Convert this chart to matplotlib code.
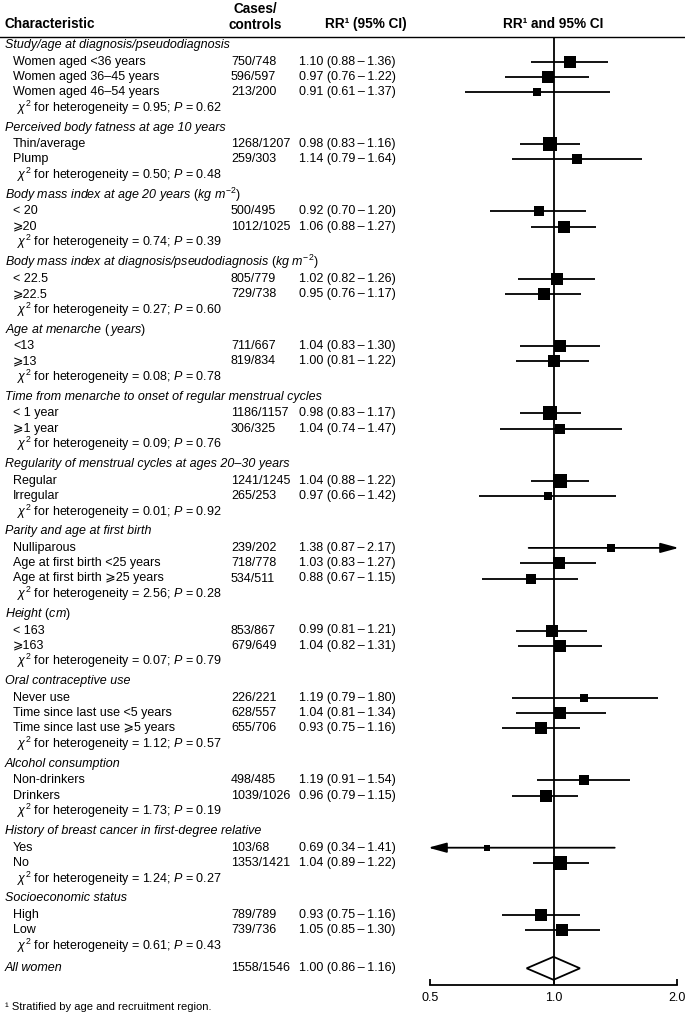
import matplotlib
matplotlib.use("Agg")
import matplotlib.pyplot as plt
import numpy as np

plt.rcParams["font.family"] = ["Liberation Sans", "DejaVu Sans"]
plt.rcParams["mathtext.fontset"] = "custom"
plt.rcParams["mathtext.rm"] = "Liberation Sans"
plt.rcParams["mathtext.it"] = "Liberation Sans:italic"
plt.rcParams["mathtext.bf"] = "Liberation Sans:bold"

# ---- data ----
group_titles = [
    "Study/age at diagnosis/pseudodiagnosis",
    "Perceived body fatness at age 10 years",
    r"Body mass index at age 20 years $(kg\ m^{-2})$",
    r"Body mass index at diagnosis/pseudodiagnosis $(kg\ m^{-2})$",
    r"Age at menarche $(\,years)$",
    "Time from menarche to onset of regular menstrual cycles",
    "Regularity of menstrual cycles at ages 20\u201330 years",
    "Parity and age at first birth",
    r"Height $(cm)$",
    "Oral contraceptive use",
    "Alcohol consumption",
    "History of breast cancer in first-degree relative",
    "Socioeconomic status",
]
item_labels = [
    ["Women aged <36 years", "Women aged 36\u201345 years", "Women aged 46\u201354 years"],
    ["Thin/average", "Plump"],
    ["< 20", "\u2a7e20"],
    ["< 22.5", "\u2a7e22.5"],
    ["<13", "\u2a7e13"],
    ["< 1 year", "\u2a7e1 year"],
    ["Regular", "Irregular"],
    ["Nulliparous", "Age at first birth <25 years", "Age at first birth \u2a7e25 years"],
    ["< 163", "\u2a7e163"],
    ["Never use", "Time since last use <5 years", "Time since last use \u2a7e5 years"],
    ["Non-drinkers", "Drinkers"],
    ["Yes", "No"],
    ["High", "Low"],
]
cases_controls = [
    ["750/748", "596/597", "213/200"],
    ["1268/1207", "259/303"],
    ["500/495", "1012/1025"],
    ["805/779", "729/738"],
    ["711/667", "819/834"],
    ["1186/1157", "306/325"],
    ["1241/1245", "265/253"],
    ["239/202", "718/778", "534/511"],
    ["853/867", "679/649"],
    ["226/221", "628/557", "655/706"],
    ["498/485", "1039/1026"],
    ["103/68", "1353/1421"],
    ["789/789", "739/736"],
]
rr = [
    [1.10, 0.97, 0.91], [0.98, 1.14], [0.92, 1.06], [1.02, 0.95], [1.04, 1.00],
    [0.98, 1.04], [1.04, 0.97], [1.38, 1.03, 0.88], [0.99, 1.04],
    [1.19, 1.04, 0.93], [1.19, 0.96], [0.69, 1.04], [0.93, 1.05],
]
ci_low = [
    [0.88, 0.76, 0.61], [0.83, 0.79], [0.70, 0.88], [0.82, 0.76], [0.83, 0.81],
    [0.83, 0.74], [0.88, 0.66], [0.87, 0.83, 0.67], [0.81, 0.82],
    [0.79, 0.81, 0.75], [0.91, 0.79], [0.34, 0.89], [0.75, 0.85],
]
ci_high = [
    [1.36, 1.22, 1.37], [1.16, 1.64], [1.20, 1.27], [1.26, 1.17], [1.30, 1.22],
    [1.17, 1.47], [1.22, 1.42], [2.17, 1.27, 1.15], [1.21, 1.31],
    [1.80, 1.34, 1.16], [1.54, 1.15], [1.41, 1.22], [1.16, 1.30],
]
chi2_het = [0.95, 0.50, 0.74, 0.27, 0.08, 0.09, 0.01, 2.56, 0.07, 1.12, 1.73, 1.24, 0.61]
p_het = [0.62, 0.48, 0.39, 0.60, 0.78, 0.76, 0.92, 0.28, 0.79, 0.57, 0.19, 0.27, 0.43]

overall_label = "All women"
overall_cases = "1558/1546"
overall_rr, overall_low, overall_high = 1.00, 0.86, 1.16

axis_ticks = [0.5, 1.0, 2.0]
axis_ticklabels = ["0.5", "1.0", "2.0"]

# ---- layout (pixel coordinates, y down) ----
W, H = 685, 1015
FS = 9
HFS = 9.8
X_HEAD, X_ITEM, X_CHI = 5, 13, 17
X_CASES, X_RR = 231, 299
PLOT_LEFT, PLOT_RIGHT, PLOT_TOP, PLOT_BOTTOM = 430, 677, 37, 985
RR_FMT = "{:.2f} ({:.2f}\u2009\u2013\u2009{:.2f})"

fig = plt.figure(figsize=(W / 100, H / 100), dpi=100)
ax = fig.add_axes([0, 0, 1, 1])
ax.set_xlim(0, W)
ax.set_ylim(H, 0)
ax.axis("off")

fax = fig.add_axes([PLOT_LEFT / W, (H - PLOT_BOTTOM) / H,
                    (PLOT_RIGHT - PLOT_LEFT) / W, (PLOT_BOTTOM - PLOT_TOP) / H])
fax.set_xscale("log")
xmin, xmax = axis_ticks[0], axis_ticks[-1]
fax.set_xlim(xmin, xmax)
fax.set_ylim(PLOT_BOTTOM, PLOT_TOP)
fax.patch.set_alpha(0)
for side in ["left", "right", "top"]:
    fax.spines[side].set_visible(False)
fax.spines["bottom"].set_linewidth(1.3)
fax.set_yticks([])
fax.xaxis.set_minor_locator(matplotlib.ticker.NullLocator())
fax.set_xticks(axis_ticks)
fax.set_xticklabels(axis_ticklabels, fontsize=FS)
fax.tick_params(axis="x", direction="in", length=4, width=1.3, pad=5)

# header
ax.text(X_HEAD, 24, "Characteristic", fontsize=HFS, fontweight="bold", va="center")
ax.text(255, 29, "Cases/\ncontrols", fontsize=HFS, fontweight="bold", ha="center",
        va="baseline", multialignment="center", linespacing=1.2)
ax.text(325, 24, "RR\u00b9 (95% CI)", fontsize=HFS, fontweight="bold", va="center")
ax.text(553, 24, "RR\u00b9 and 95% CI", fontsize=HFS, fontweight="bold", va="center",
        ha="center")
ax.axhline(PLOT_TOP, color="black", lw=1.0)

fax.axvline(1.0, color="black", lw=1.3, zorder=1)


def draw_row(y, label, cases, est, lo, hi):
    ax.text(X_ITEM, y, label, fontsize=FS, va="center")
    ax.text(X_CASES, y, cases, fontsize=FS, va="center")
    ax.text(X_RR, y, RR_FMT.format(est, lo, hi), fontsize=FS, va="center")
    # square size follows inverse-variance weight
    se = (np.log(hi) - np.log(lo)) / 3.92
    side_px = 3.97 / np.sqrt(se)
    lo_c, hi_c = max(lo, xmin), min(hi, xmax)
    arrow = dict(arrowstyle="-|>,head_length=1.1,head_width=0.3", color="black",
                 lw=1.3, shrinkA=0, shrinkB=0, mutation_scale=10)
    if lo < xmin:
        fax.annotate("", xy=(xmin * 0.99, y), xytext=(hi_c, y), arrowprops=arrow,
                     annotation_clip=False)
    elif hi > xmax:
        fax.annotate("", xy=(xmax * 1.01, y), xytext=(lo_c, y), arrowprops=arrow,
                     annotation_clip=False)
    else:
        fax.plot([lo, hi], [y, y], color="black", lw=1.3, solid_capstyle="butt", zorder=2)
    fax.plot([est], [y], marker="s", ms=side_px * 0.72, color="black", mew=0, zorder=3,
             clip_on=False)


y = 45.0
for g, title in enumerate(group_titles):
    if g > 0:
        y += 20.0
    ax.text(X_HEAD, y, title, fontsize=FS, style="italic", va="center")
    y += 16.5
    for i, label in enumerate(item_labels[g]):
        if i > 0:
            y += 15.3
        draw_row(y, label, cases_controls[g][i], rr[g][i], ci_low[g][i], ci_high[g][i])
    y += 15.5
    ax.text(X_CHI, y, r"$\chi^2$ for heterogeneity = {:.2f}; $P$ = {:.2f}".format(
        chi2_het[g], p_het[g]), fontsize=FS, va="center")

# overall
y += 22.5
ax.text(X_HEAD, y, overall_label, fontsize=FS, style="italic", va="center")
ax.text(X_CASES, y, overall_cases, fontsize=FS, va="center")
ax.text(X_RR, y, RR_FMT.format(overall_rr, overall_low, overall_high), fontsize=FS,
        va="center")
half_h = 11.5
fax.fill([overall_low, overall_rr, overall_high, overall_rr],
         [y, y - half_h, y, y + half_h], facecolor="none", edgecolor="black", lw=1.3,
         zorder=3, clip_on=False)

ax.text(X_HEAD, 1007, "\u00b9 Stratified by age and recruitment region.", fontsize=8,
        va="center")

fig.savefig("out.png", dpi=100)
